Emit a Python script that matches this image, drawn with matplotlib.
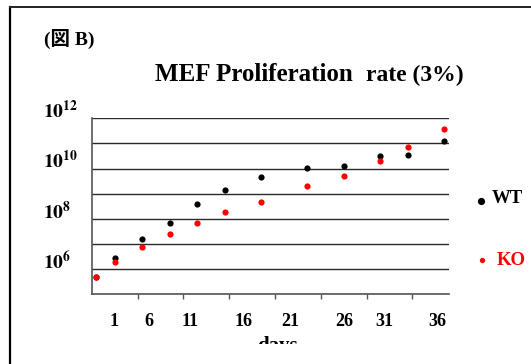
import matplotlib
matplotlib.use("Agg")
import matplotlib.pyplot as plt
from matplotlib.lines import Line2D
from matplotlib.patches import Rectangle
from matplotlib.ticker import NullLocator

# ---------------- data ----------------
days = [-1, 1, 4, 7, 10, 13, 17, 22, 26, 30, 33, 37]
wt_cells = [5.0e5, 2.8e6, 1.6e7, 6.6e7, 3.9e8, 1.4e9, 4.5e9, 1.05e10, 1.26e10, 3.2e10, 3.5e10, 1.3e11]
ko_cells = [5.0e5, 1.9e6, 7.6e6, 2.6e7, 6.6e7, 1.95e8, 4.6e8, 2.0e9, 4.9e9, 2.0e10, 7.4e10, 3.6e11]

x_tick_labels = ["1", "6", "11", "16", "21", "26", "31", "36"]
x_label_pos = [0.89, 4.78, 9.21, 15.06, 20.12, 26.04, 30.48, 36.22]
x_tick_marks = [3.5, 8.5, 13.5, 18.5, 23.5, 28.5, 33.5]

y_ticks = [1e5, 1e6, 1e7, 1e8, 1e9, 1e10, 1e11, 1e12]
y_tick_labels = ["", r"$\mathbf{10^{6}}$", "", r"$\mathbf{10^{8}}$", "",
                 r"$\mathbf{10^{10}}$", "", r"$\mathbf{10^{12}}$"]

series_names = ["WT", "KO"]
series_colors = ["black", "#ff0000"]

# ---------------- figure ----------------
plt.rcParams["font.family"] = ["Liberation Serif", "Noto Sans CJK JP"]
plt.rcParams["font.weight"] = "bold"
plt.rcParams["mathtext.fontset"] = "stix"

W, H = 531, 364
fig = plt.figure(figsize=(W / 100, H / 100), dpi=100)
fig.patch.set_facecolor("white")

def fx(px):
    return px / W

def fy(py):
    return 1 - py / H

ax = fig.add_axes([fx(91.7), fy(294.3), fx(449) - fx(91.7), fy(118.3) - fy(294.3)])
ax.set_yscale("log")
ax.set_xlim(-1.5, 37.5)
ax.set_ylim(1e5, 1e12)

ax.scatter(days, wt_cells, s=20, color=series_colors[0], zorder=3, linewidths=0)
ax.scatter(days, ko_cells, s=20, color=series_colors[1], zorder=4, linewidths=0)

# y axis
ax.set_yticks(y_ticks)
ax.set_yticklabels(y_tick_labels)
ax.yaxis.set_minor_locator(NullLocator())
ax.tick_params(axis="y", which="major", length=0, pad=35, labelsize=14)
for lab in ax.get_yticklabels():
    lab.set_horizontalalignment("left")
    lab.set_verticalalignment("baseline")
ax.grid(axis="y", which="major", color="#2a2a2a", linewidth=1.0)
ax.set_axisbelow(True)

# x axis
ax.set_xticks(x_tick_marks)
ax.set_xticklabels([""] * len(x_tick_marks))
ax.set_xticks(x_label_pos, minor=True)
ax.set_xticklabels(x_tick_labels, minor=True)
ax.tick_params(axis="x", which="major", direction="out", length=3.5, width=1.0, color="#555555")
ax.tick_params(axis="x", which="minor", length=0, pad=13.5, labelsize=13)

for side in ["top", "right"]:
    ax.spines[side].set_visible(False)
for side in ["left", "bottom"]:
    ax.spines[side].set_color("#555555")
    ax.spines[side].set_linewidth(1.2)

# titles / labels
fig.text(fx(44), fy(45), "(図 B)", fontsize=14, fontweight="bold",
         ha="left", va="baseline", family=["Liberation Serif", "Noto Sans CJK JP"])
fig.text(fx(155), fy(81), "MEF Proliferation", fontsize=18, fontweight="bold",
         ha="left", va="baseline")
fig.text(fx(366), fy(81), "rate (3%)", fontsize=17, fontweight="bold",
         ha="left", va="baseline")
fig.text(fx(277), fy(335.5), "days", fontsize=15, fontweight="bold",
         ha="center", va="top")

# legend (manual)
fig.add_artist(Line2D([fx(481)], [fy(200.7)], marker="o", markersize=5.2, linestyle="none",
                      color=series_colors[0], markeredgewidth=0, transform=fig.transFigure))
fig.text(fx(491.7), fy(203), series_names[0], fontsize=13.5, fontweight="bold",
         color=series_colors[0], ha="left", va="baseline")
fig.add_artist(Line2D([fx(481.7)], [fy(260)], marker="o", markersize=3.8, linestyle="none",
                      color=series_colors[1], markeredgewidth=0, transform=fig.transFigure))
fig.text(fx(496.7), fy(265), series_names[1], fontsize=13.5, fontweight="bold",
         color=series_colors[1], ha="left", va="baseline")

# white cover cutting off the bottom (as in the reference) and frame lines
fig.add_artist(Rectangle((fx(12), 0), 1, fy(344), transform=fig.transFigure,
                         facecolor="white", edgecolor="none", zorder=10))
fig.add_artist(Line2D([fx(10), fx(10)], [0, fy(7)], color="black", linewidth=1.6,
                      transform=fig.transFigure, zorder=11))
fig.add_artist(Line2D([fx(10), 1], [fy(7), fy(7)], color="#222222", linewidth=1.4,
                      transform=fig.transFigure, zorder=11))

fig.savefig("out.png", dpi=100)
